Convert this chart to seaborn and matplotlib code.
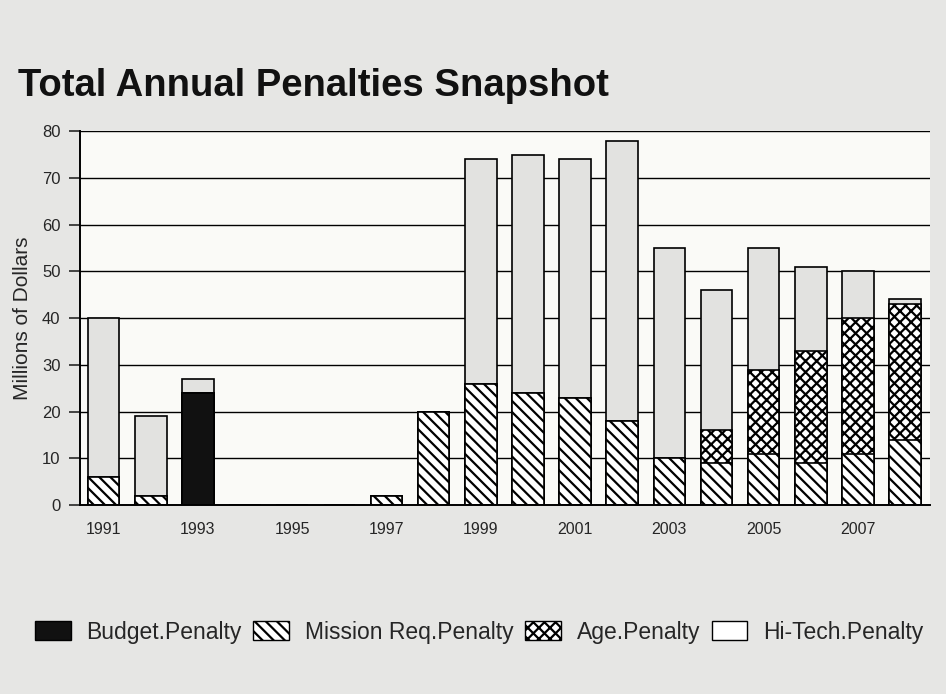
import numpy as np
import pandas as pd
import seaborn as sns
import matplotlib.pyplot as plt
from matplotlib.patches import Patch

# ---------------- data (millions of dollars) ----------------
years = list(range(1991, 2009))
budget = [0, 0, 24, 0, 0, 0, 0, 0, 0, 0, 0, 0, 0, 0, 0, 0, 0, 0]
mission = [6, 2, 0, 0, 0, 0, 2, 20, 26, 24, 23, 18, 10, 9, 11, 9, 11, 14]
age = [0, 0, 0, 0, 0, 0, 0, 0, 0, 0, 0, 0, 0, 7, 18, 24, 29, 29]
hitech = [34, 17, 3, 0, 0, 0, 0, 0, 48, 51, 51, 60, 45, 30, 26, 18, 10, 1]

series_names = ['Budget.Penalty', 'Mission Req.Penalty', 'Age.Penalty', 'Hi-Tech.Penalty']

df = pd.DataFrame({'Year': [str(y) for y in years],
                   'Budget': budget, 'Mission': mission,
                   'Age': age, 'HiTech': hitech})
# cumulative tops, stacked bottom -> top: budget, mission, age, hi-tech
df['top_budget'] = df['Budget']
df['top_mission'] = df['top_budget'] + df['Mission']
df['top_age'] = df['top_mission'] + df['Age']
df['top_hitech'] = df['top_age'] + df['HiTech']

sns.set_style('white')
plt.rcParams['font.family'] = ['Liberation Sans', 'DejaVu Sans']
plt.rcParams['hatch.linewidth'] = 1.6
plt.rcParams['hatch.color'] = 'black'

fig = plt.figure(figsize=(9.46, 6.94), dpi=100, facecolor='#e6e6e4')
ax = fig.add_axes([0.0846, 0.272, 0.898, 0.539])
ax.set_facecolor('#fafaf7')

# draw layers from tallest to shortest so each segment shows
layers = [('top_hitech', '#e2e2e0', ''),
          ('top_age', 'white', 'xxx'),
          ('top_mission', 'white', '\\\\\\'),
          ('top_budget', '#111111', '')]
for col, fc, hatch in layers:
    sns.barplot(data=df, x='Year', y=col, color=fc, width=0.67,
                edgecolor='black', linewidth=1.2, hatch=hatch,
                saturation=1, ax=ax)

ax.set_ylim(0, 80)
ax.set_xlim(-0.5, 17.52)
ax.set_yticks(range(0, 81, 10))
ax.yaxis.grid(True, color='black', linewidth=1.0)
ax.set_axisbelow(True)
ax.set_xticks(range(len(years)))
ax.set_xticklabels([str(y) if (y - 1991) % 2 == 0 else '' for y in years])
ax.tick_params(axis='x', length=0, labelsize=11.5, pad=12)
ax.tick_params(axis='y', direction='out', length=8, width=1.2, labelsize=12, pad=6, left=True)
ax.set_xlabel('')
ax.set_ylabel('Millions of Dollars', fontsize=15)
ax.yaxis.set_label_coords(-0.056, 0.5)
for s in ['top', 'right']:
    ax.spines[s].set_visible(False)
for s in ['left', 'bottom']:
    ax.spines[s].set_color('black')
    ax.spines[s].set_linewidth(1.4)

fig.text(0.019, 0.862, 'Total Annual Penalties Snapshot', fontsize=27.5,
         fontweight='bold', color='#111111')

handles = [Patch(facecolor='#111111', edgecolor='black', label=series_names[0]),
           Patch(facecolor='white', edgecolor='black', hatch='\\\\\\', label=series_names[1]),
           Patch(facecolor='white', edgecolor='black', hatch='xxx', label=series_names[2]),
           Patch(facecolor='white', edgecolor='black', label=series_names[3])]
fig.legend(handles=handles, loc='center left', bbox_to_anchor=(0.037, 0.089), ncol=4,
           frameon=False, fontsize=16.5, handlelength=1.55, handleheight=0.9,
           handletextpad=0.7, columnspacing=0.5, borderaxespad=0, borderpad=0)

fig.savefig('out.png', dpi=100, facecolor=fig.get_facecolor())
